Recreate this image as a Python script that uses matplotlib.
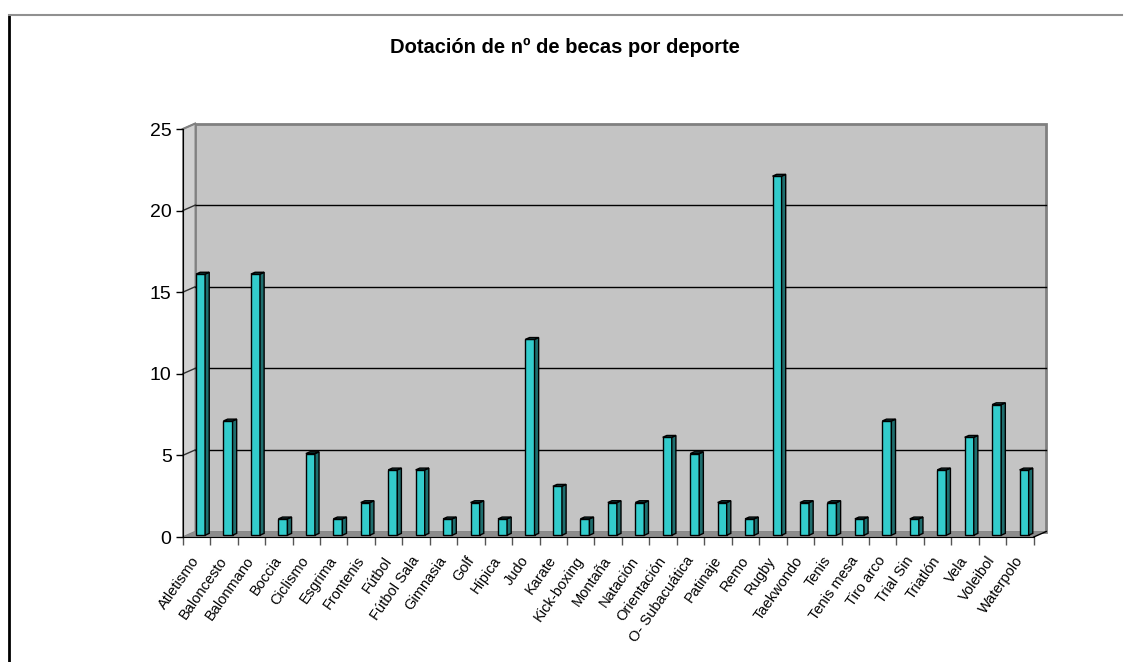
# Column chart (Excel style pseudo-3D): becas per deporte
import matplotlib
matplotlib.use("Agg")
import matplotlib.pyplot as plt
from matplotlib.patches import Polygon, Rectangle
from matplotlib.lines import Line2D
import numpy as np

plt.rcParams['font.family'] = ['Liberation Sans', 'DejaVu Sans']

# ==============================================================================
# Data
# ==============================================================================
deportes = ["Atletismo", "Baloncesto", "Balonmano", "Boccia", "Ciclismo", "Esgrima",
            "Frontenis", "Fútbol", "Fútbol Sala", "Gimnasia", "Golf", "Hípica", "Judo",
            "Karate", "Kick-boxing", "Montaña", "Natación", "Orientación",
            "O- Subacuática", "Patinaje", "Remo", "Rugby", "Taekwondo", "Tenis",
            "Tenis mesa", "Tiro arco", "Trial Sin", "Triatlón", "Vela", "Voleibol",
            "Waterpolo"]
becas = [16, 7, 16, 1, 5, 1, 2, 4, 4, 1, 2, 1, 12, 3, 1, 2, 2, 6, 5, 2, 1, 22,
         2, 2, 1, 7, 1, 4, 6, 8, 4]
y_ticks = [0, 5, 10, 15, 20, 25]
titulo = "Dotación de nº de becas por deporte"

# ==============================================================================
# Figure + front plane axes
# ==============================================================================
fig = plt.figure(figsize=(11.3, 6.62), dpi=100)
ax = fig.add_axes([0.1617, 0.1888, 0.7531, 0.6163])
n = len(deportes)
x0, x1 = -0.5, n - 0.5
ymax = 25
ax.set_xlim(x0, x1)
ax.set_ylim(0, ymax)
ax.patch.set_visible(False)

# depth of the fake 3d box in data units (~12.5px right, 5.5px up)
DX = 12.5 / (851 / n)
DY = 5.5 / (408 / ymax)

# walls and floor
back = Rectangle((x0 + DX, DY), x1 - x0, ymax, facecolor="#C4C4C4",
                 edgecolor="#808080", lw=2, clip_on=False, zorder=0)
ax.add_patch(back)
side = Polygon([(x0, 0), (x0 + DX, DY), (x0 + DX, ymax + DY), (x0, ymax)],
               closed=True, facecolor="#D0D0D0", edgecolor="#808080", lw=1,
               clip_on=False, zorder=0.5)
ax.add_patch(side)
floor = Polygon([(x0, 0), (x1, 0), (x1 + DX, DY), (x0 + DX, DY)], closed=True,
                facecolor="#8C8C8C", edgecolor="none", clip_on=False, zorder=0.6)
ax.add_patch(floor)
ax.plot([x1, x1 + DX], [0, DY], color="black", lw=1, clip_on=False, zorder=3)

# gridlines on the back wall + diagonals on the side wall
for k in y_ticks[1:-1]:
    ax.plot([x0 + DX, x1 + DX], [k + DY, k + DY], color="black", lw=1,
            clip_on=False, zorder=1)
    ax.plot([x0, x0 + DX], [k, k + DY], color="#303030", lw=1, clip_on=False, zorder=1)
ax.plot([x0, x0 + DX], [ymax, ymax + DY], color="#808080", lw=1.5, clip_on=False, zorder=1)

# ==============================================================================
# Bars: front face + side + top
# ==============================================================================
w = 0.33
f0, f1 = 0.33, 0.66     # depth position of the bar inside the box
xs = np.arange(n)
bot = f0 * DY
ax.bar(xs + f0 * DX, becas, width=w, bottom=bot, color="#33CCCC",
       edgecolor="black", lw=1, zorder=4)
d = f1 - f0
for xi, v in zip(xs, becas):
    xl = xi + f0 * DX - w / 2
    xr = xi + f0 * DX + w / 2
    top = v + bot
    ax.add_patch(Polygon([(xr, bot), (xr + d * DX, bot + d * DY),
                          (xr + d * DX, top + d * DY), (xr, top)], closed=True,
                         facecolor="#1E6E6E", edgecolor="black", lw=1, zorder=4))
    ax.add_patch(Polygon([(xl, top), (xr, top), (xr + d * DX, top + d * DY),
                          (xl + d * DX, top + d * DY)], closed=True,
                         facecolor="#175858", edgecolor="black", lw=1, zorder=4))

# ==============================================================================
# Axes, ticks, labels
# ==============================================================================
for s in ["top", "right"]:
    ax.spines[s].set_visible(False)
ax.spines["left"].set_color("black")
ax.spines["bottom"].set_color("black")
ax.spines["left"].set_zorder(5)
ax.spines["bottom"].set_zorder(5)

ax.set_yticks(y_ticks)
ax.tick_params(axis="y", length=5, width=1, pad=3, labelsize=14, colors="black")

ax.set_xticks(xs)
ax.set_xticklabels(deportes, fontsize=10.5)
ax.set_xticks(np.arange(x0, x1 + 0.01, 1), minor=True)
ax.tick_params(axis="x", which="major", length=0, pad=15)
ax.tick_params(axis="x", which="minor", length=6, width=1, color="#555555")
plt.setp(ax.get_xticklabels(), rotation=55, ha="right", va="center",
         rotation_mode="anchor")

fig.text(0.5, 0.929, titulo, ha="center", va="center", fontsize=14.5, fontweight="bold")

# outer chart border
fig.add_artist(Line2D([8.5 / 1130, 8.5 / 1130], [0, 1 - 15 / 662], color="black", lw=2))
fig.add_artist(Line2D([8.5 / 1130, 1122 / 1130], [1 - 15 / 662, 1 - 15 / 662],
                      color="#909090", lw=1.5))

fig.savefig("out.png", dpi=100)
